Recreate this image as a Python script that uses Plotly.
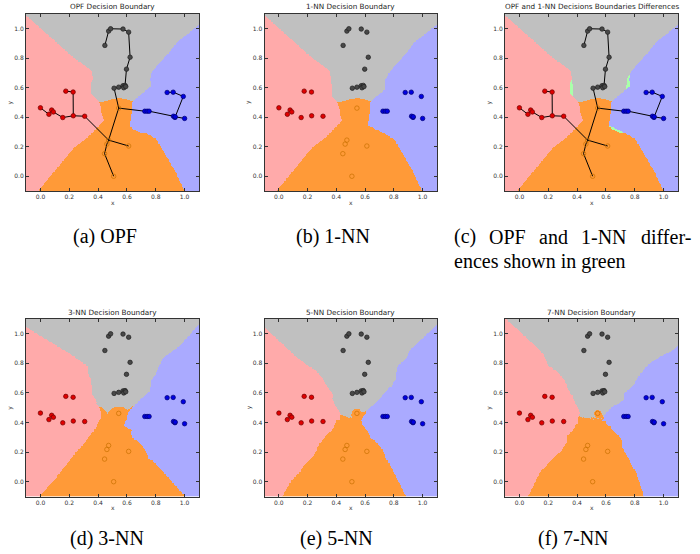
import numpy as np
import plotly.graph_objects as go

# ---------------- data ----------------
red_x = [0.000, 0.059, 0.078, 0.090, 0.155, 0.176, 0.227, 0.228, 0.307]
red_y = [0.464, 0.420, 0.449, 0.436, 0.398, 0.577, 0.571, 0.410, 0.407]

gray_x = [0.447, 0.473, 0.487, 0.573, 0.612, 0.622, 0.597, 0.511, 0.543, 0.573, 0.587, 0.578, 0.592]
gray_y = [0.887, 0.984, 1.000, 0.998, 0.977, 0.807, 0.726, 0.597, 0.604, 0.614, 0.616, 0.600, 0.608]

orange_x = [0.543, 0.473, 0.461, 0.445, 0.612, 0.508]
orange_y = [0.462, 0.245, 0.218, 0.153, 0.205, 0.000]

blue_x = [0.879, 0.921, 0.991, 0.724, 0.740, 0.754, 0.923, 0.933, 0.935, 1.000]
blue_y = [0.568, 0.570, 0.541, 0.441, 0.441, 0.441, 0.407, 0.399, 0.403, 0.392]

panel_titles = ["OPF Decision Boundary", "1-NN Decision Boundary",
                "OPF and 1-NN Decisions Boundaries Differences",
                "3-NN Decision Boundary", "5-NN Decision Boundary", "7-NN Decision Boundary"]
captions = ["(a) OPF", "(b) 1-NN", None, "(d) 3-NN", "(e) 5-NN", "(f) 7-NN"]
caption_c_line1 = ["(c)", "OPF", "and", "1-NN", "differ-"]
caption_c_line2 = "ences shown in green"
tick_vals = [0.0, 0.2, 0.4, 0.6, 0.8, 1.0]

region_colors = ["#FFAAAA", "#C0C0C0", "#FF9A38", "#AAAAFF", "#AAFFAA"]

# ---------------- classifiers ----------------
P = np.array(list(zip(red_x, red_y)) + list(zip(gray_x, gray_y)) +
             list(zip(orange_x, orange_y)) + list(zip(blue_x, blue_y)))
lab = np.array([0] * len(red_x) + [1] * len(gray_x) + [2] * len(orange_x) + [3] * len(blue_x))
n = len(P)
D = np.sqrt(((P[:, None, :] - P[None, :, :]) ** 2).sum(-1))

# MST (Prim)
in_tree = np.zeros(n, bool); in_tree[0] = True
best = D[0].copy(); parent = np.zeros(n, int)
edges = []
for _ in range(n - 1):
    cand = np.where(in_tree, np.inf, best)
    j = int(np.argmin(cand))
    edges.append((int(parent[j]), j))
    in_tree[j] = True
    upd = (D[j] < best) & (~in_tree)
    best[upd] = D[j][upd]; parent[upd] = j

# OPF training
proto = set()
for a, b in edges:
    if lab[a] != lab[b]:
        proto.add(a); proto.add(b)
C = np.full(n, np.inf)
for p in proto:
    C[p] = 0.0
L = lab.copy()
done = np.zeros(n, bool)
for _ in range(n):
    s = int(np.argmin(np.where(done, np.inf, C)))
    done[s] = True
    for t in range(n):
        if not done[t]:
            tmp = max(C[s], D[s, t])
            if tmp < C[t]:
                C[t] = tmp; L[t] = L[s]

g = np.round(np.arange(-0.1, 1.1001, 0.005), 4)
GX, GY = np.meshgrid(g, g)
G = np.stack([GX.ravel(), GY.ravel()], 1)
DG = np.sqrt(((G[:, None, :] - P[None, :, :]) ** 2).sum(-1))

opf_lab = L[np.argmin(np.maximum(C[None, :], DG), axis=1)]


def knn(k):
    idx = np.argsort(DG, axis=1)[:, :k]
    d = np.take_along_axis(DG, idx, 1)
    w = 1.0 / np.maximum(d, 1e-9)
    votes = np.zeros((len(G), 4))
    for c in range(4):
        votes[:, c] = (w * (lab[idx] == c)).sum(1)
    return votes.argmax(1)


nn1 = knn(1)
diff = np.where(opf_lab != nn1, 4, opf_lab)
grids = [opf_lab, nn1, diff, knn(3), knn(5), knn(7)]

cs = []
for i, c in enumerate(region_colors):
    cs.append([i / 5, c]); cs.append([(i + 1) / 5, c])

# ---------------- layout ----------------
W, H = 700, 554
boxes = [(26, 199, 14, 191), (264.5, 437, 14, 191), (505, 678, 14, 191),
         (26, 199, 319, 496.5), (264.5, 437, 319, 496.5), (505, 678, 319, 496.5)]
cap_center = [(105, 237), (333, 237), None, (107, 538), (336, 538), (573, 538)]
CAP_FONT = dict(size=20, color="black", family="Liberation Serif, Times New Roman, serif")

fig = go.Figure()
annotations = []
layout_axes = {}

mx = dict(red=(red_x, red_y, "#E00000", "#700000"),
          gray=(gray_x, gray_y, "#484848", "#202020"),
          orange=(orange_x, orange_y, "rgba(0,0,0,0)", "#C87000"),
          blue=(blue_x, blue_y, "#0000E0", "#000070"))


def ann(text, x, y, **kw):
    d = dict(text=text, x=x / W, y=1 - y / H, xref="paper", yref="paper", showarrow=False,
             xanchor="center", yanchor="middle", borderpad=0)
    d.update(kw)
    annotations.append(d)


for i in range(6):
    xa = "x" if i == 0 else f"x{i+1}"
    ya = "y" if i == 0 else f"y{i+1}"
    x0, x1, y0, y1 = boxes[i]
    fig.add_trace(go.Heatmap(x=g, y=g, z=grids[i].reshape(GX.shape), zmin=-0.5, zmax=4.5,
                             colorscale=cs, showscale=False, hoverinfo="skip",
                             xaxis=xa, yaxis=ya))
    if i in (0, 2):
        lx, ly = [], []
        for a, b in edges:
            lx += [P[a, 0], P[b, 0], None]; ly += [P[a, 1], P[b, 1], None]
        fig.add_trace(go.Scatter(x=lx, y=ly, mode="lines", line=dict(color="black", width=1),
                                 xaxis=xa, yaxis=ya, showlegend=False, hoverinfo="skip"))
    for name, (xs, ys, fc, ec) in mx.items():
        fig.add_trace(go.Scatter(x=xs, y=ys, mode="markers", xaxis=xa, yaxis=ya, showlegend=False,
                                 marker=dict(size=4.5, color=fc, line=dict(color=ec, width=0.7))))
    axcommon = dict(range=[-0.1, 1.1], showline=True, linecolor="#333", linewidth=1, mirror="ticks",
                    ticks="inside", ticklen=3, tickcolor="#333", tickvals=tick_vals,
                    ticktext=[f"{v:.1f}" for v in tick_vals], tickfont=dict(size=6, color="#333",
                    family="DejaVu Sans"), showgrid=False, zeroline=False, fixedrange=True)
    layout_axes["xaxis" if i == 0 else f"xaxis{i+1}"] = dict(axcommon, domain=[x0 / W, x1 / W], anchor=ya)
    layout_axes["yaxis" if i == 0 else f"yaxis{i+1}"] = dict(axcommon, domain=[1 - y1 / H, 1 - y0 / H], anchor=xa)
    ann(panel_titles[i], (x0 + x1) / 2, y0 - 7, font=dict(size=7.25, color="#222", family="DejaVu Sans"))
    ann("x", (x0 + x1) / 2, y1 + 11, font=dict(size=6, color="#333", family="DejaVu Sans"))
    ann("y", x0 - 16, (y0 + y1) / 2, textangle=-90, font=dict(size=6, color="#333", family="DejaVu Sans"))
    if captions[i] is not None:
        cx, cy = cap_center[i]
        ann(captions[i], cx, cy, font=CAP_FONT)

# caption (c): justified first line, left-aligned second line
em = {"(c)": 1.110, "OPF": 1.834, "and": 1.444, "1-NN": 2.277, "differ-": 2.554}
left, right = 453, 692
widths = [em[w] * CAP_FONT["size"] for w in caption_c_line1]
gap = (right - left - sum(widths)) / (len(widths) - 1)
pos = left
for k, (w, wd) in enumerate(zip(caption_c_line1, widths)):
    if k == 0:
        ann(w, left, 237, xanchor="left", font=CAP_FONT)
    elif k == len(widths) - 1:
        ann(w, right, 237, xanchor="right", font=CAP_FONT)
    else:
        ann(w, pos + wd / 2, 237, font=CAP_FONT)
    pos += wd + gap
ann(caption_c_line2, left, 261, xanchor="left", font=CAP_FONT)

fig.update_layout(width=W, height=H, margin=dict(l=0, r=0, t=0, b=0), paper_bgcolor="white",
                  plot_bgcolor="white", showlegend=False, annotations=annotations, **layout_axes)
fig.write_html("out.html", config={"staticPlot": True},
               post_script="document.body.style.margin='0';")
